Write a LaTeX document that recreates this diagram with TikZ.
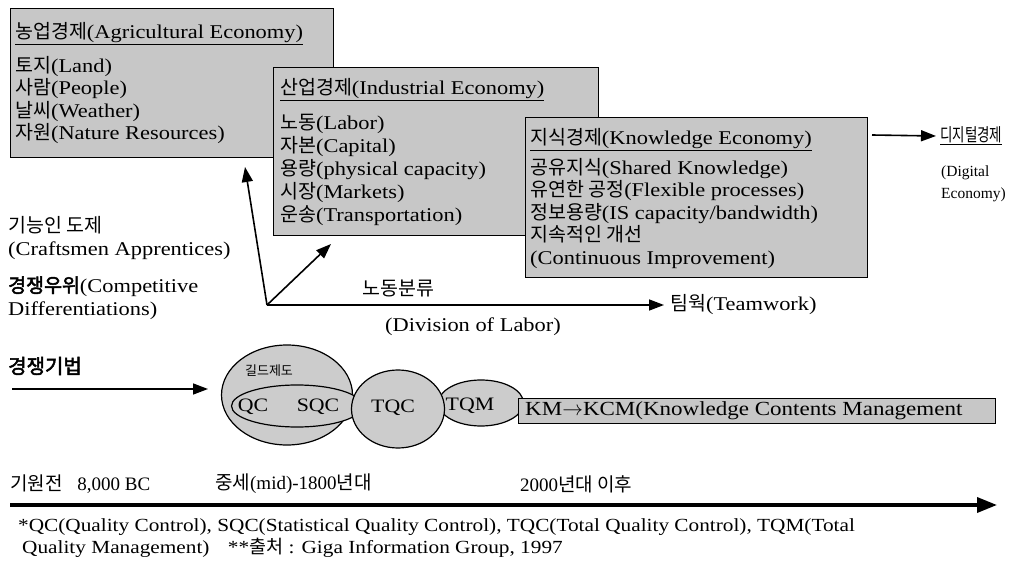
\documentclass[tikz,border=0pt]{standalone}
\usepackage{fontspec}
\setmainfont[FakeStretch=1.15]{Liberation Serif}
\newfontfamily\plain{Liberation Serif}
\newfontfamily\kr{Noto Sans CJK KR}
\newfontfamily\krb[FakeBold=2.5]{Noto Sans CJK KR}
\newcommand{\ko}[1]{{\kr #1}}
\usetikzlibrary{arrows.meta, shapes.geometric, positioning}

\begin{document}
\begin{tikzpicture}[x=1pt, y=-1pt]
% Define styles
\tikzset{
  eco box/.style={draw=black, line width=1.1pt, fill=black!22, anchor=north west, inner sep=0pt},
  box text/.style={anchor=north west, align=left, inner sep=0pt, font=\fontsize{19.5}{22.5}\selectfont},
  side label/.style={anchor=west, align=left, inner sep=0pt, font=\fontsize{19.5}{23}\selectfont},
  time label/.style={anchor=west, inner sep=0pt, font=\fontsize{19}{20}\plain},
  blob/.style={ellipse, draw=black, line width=1.2pt, fill=black!20, inner sep=0pt},
  blob text/.style={inner sep=0pt, font=\fontsize{19}{19}\selectfont},
  era arrow/.style={line width=1.6pt, -{Triangle[length=15pt,width=11pt]}},
}

\useasboundingbox (0,0) rectangle (1009,569);

% Three economies
\node[eco box, minimum width=323, minimum height=149] (agri) at (10,8) {};
\node[box text] (agritxt) at (15,22) {\underline{\ko{농업경제}(Agricultural Economy)}\\[11.5pt]
  \ko{토지}(Land)\\ \ko{사람}(People)\\ \ko{날씨}(Weather)\\ \ko{자원}(Nature Resources)};
\node[eco box, minimum width=325, minimum height=168] (indus) at (273,67) {};
\node[box text, font=\fontsize{19.5}{23.2}\selectfont] (industxt) at (280,78) {\underline{\ko{산업경제}(Industrial Economy)}\\[11.5pt]
  \ko{노동}(Labor)\\ \ko{자본}(Capital)\\ \ko{용량}(physical capacity)\\ \ko{시장}(Markets)\\ \ko{운송}(Transportation)};
\node[eco box, minimum width=342, minimum height=160] (know) at (525,117) {};
\node[box text] (knowtxt) at (530,128) {\underline{\ko{지식경제}(Knowledge Economy)}\\[7.5pt]
  \ko{공유지식}(Shared Knowledge)\\ \ko{유연한 공정}(Flexible processes)\\ \ko{정보용량}(IS capacity/bandwidth)\\
  \ko{지속적인 개선}\\ (Continuous Improvement)};

% Digital economy
\node[anchor=west, inner sep=0pt, font=\fontsize{18}{20}\kr] (digital) at (940,136) {\underline{\scalebox{0.75}[1]{디지털경제}}};
\node[anchor=north west, align=left, inner sep=0pt, font=\fontsize{15.5}{22}\plain] (digitalen) at (941,166) {(Digital\\Economy)};
\coordinate (knowout) at (872,135);
\draw[era arrow] (knowout) -- ([xshift=-4pt]digital.west);

% Left labels
\node[side label] (craft) at (8,238) {\ko{기능인 도제}\\(Craftsmen Apprentices)};
\node[side label] (compet) at (8,298) {{\krb 경쟁우위}(Competitive\\Differentiations)};
\node[side label, font=\fontsize{20}{23}\selectfont] (technique) at (8,366) {\krb 경쟁기법};

% Division of labour
\coordinate (origin) at (267,305);
\coordinate (uptip) at (245,167);
\coordinate (diagtip) at (331,244);
\node[side label] (division) at (362,288) {\ko{노동분류}};
\node[side label] (divisionen) at (385,327) {(Division of Labor)};
\node[side label] (teamwork) at (670,305) {\ko{팀웍}(Teamwork)};
\draw[era arrow] (origin) -- (uptip);
\draw[era arrow] (origin) -- (diagtip);
\draw[era arrow, shorten >=6pt] (origin) -- (teamwork.west);

% Quality techniques
\coordinate (techstart) at (12,389);
\coordinate (techend) at (208,389);
\draw[era arrow] (techstart) -- (techend);
\node[blob, minimum width=131, minimum height=100] (guild) at (287,395) {};
\node[blob, minimum width=131, minimum height=42] (qcsqc) at (297,406) {};
\node[blob, minimum width=85, minimum height=46] (tqm) at (481,403) {};
\node[blob, minimum width=93, minimum height=78] (tqc) at (398,409) {};
\node[blob text, font=\fontsize{13}{13}\selectfont] (guildtxt) at (269,371) {\ko{길드제도}};
\node[blob text] (qc) at (253,407) {QC};
\node[blob text] (sqc) at (318,407) {SQC};
\node[blob text] (tqctxt) at (393,408) {TQC};
\node[blob text] (tqmtxt) at (470,406) {TQM};
\node[eco box, minimum width=477, minimum height=25] (kcm) at (518,398) {};
\node[anchor=west, inner sep=0pt, font=\fontsize{20}{20}\selectfont] (kcmtxt) at (525,411) {KM$\rightarrow$KCM(Knowledge Contents Management};

% Timeline
\node[time label] (bc) at (10,484) {\ko{기원전}\hspace{10pt} 8,000 BC};
\node[time label] (mid) at (215,484) {\ko{중세}(mid)-1800\ko{년대}};
\node[time label] (modern) at (520,484) {2000\ko{년대 이후}};
\coordinate (tlstart) at (10,505);
\coordinate (tlend) at (997,505);
\draw[line width=3.5pt, -{Triangle[length=20pt,width=15pt]}] (tlstart) -- (tlend);

% Footnotes
\node[side label, font=\fontsize{18.5}{21}\selectfont] (note1) at (18,527) {*QC(Quality Control), SQC(Statistical Quality Control), TQC(Total Quality Control), TQM(Total};
\node[side label, font=\fontsize{18.5}{21}\selectfont] (note2) at (22,548) {Quality Management)\quad **\ko{출처} : Giga Information Group, 1997};
\end{tikzpicture}
\end{document}
